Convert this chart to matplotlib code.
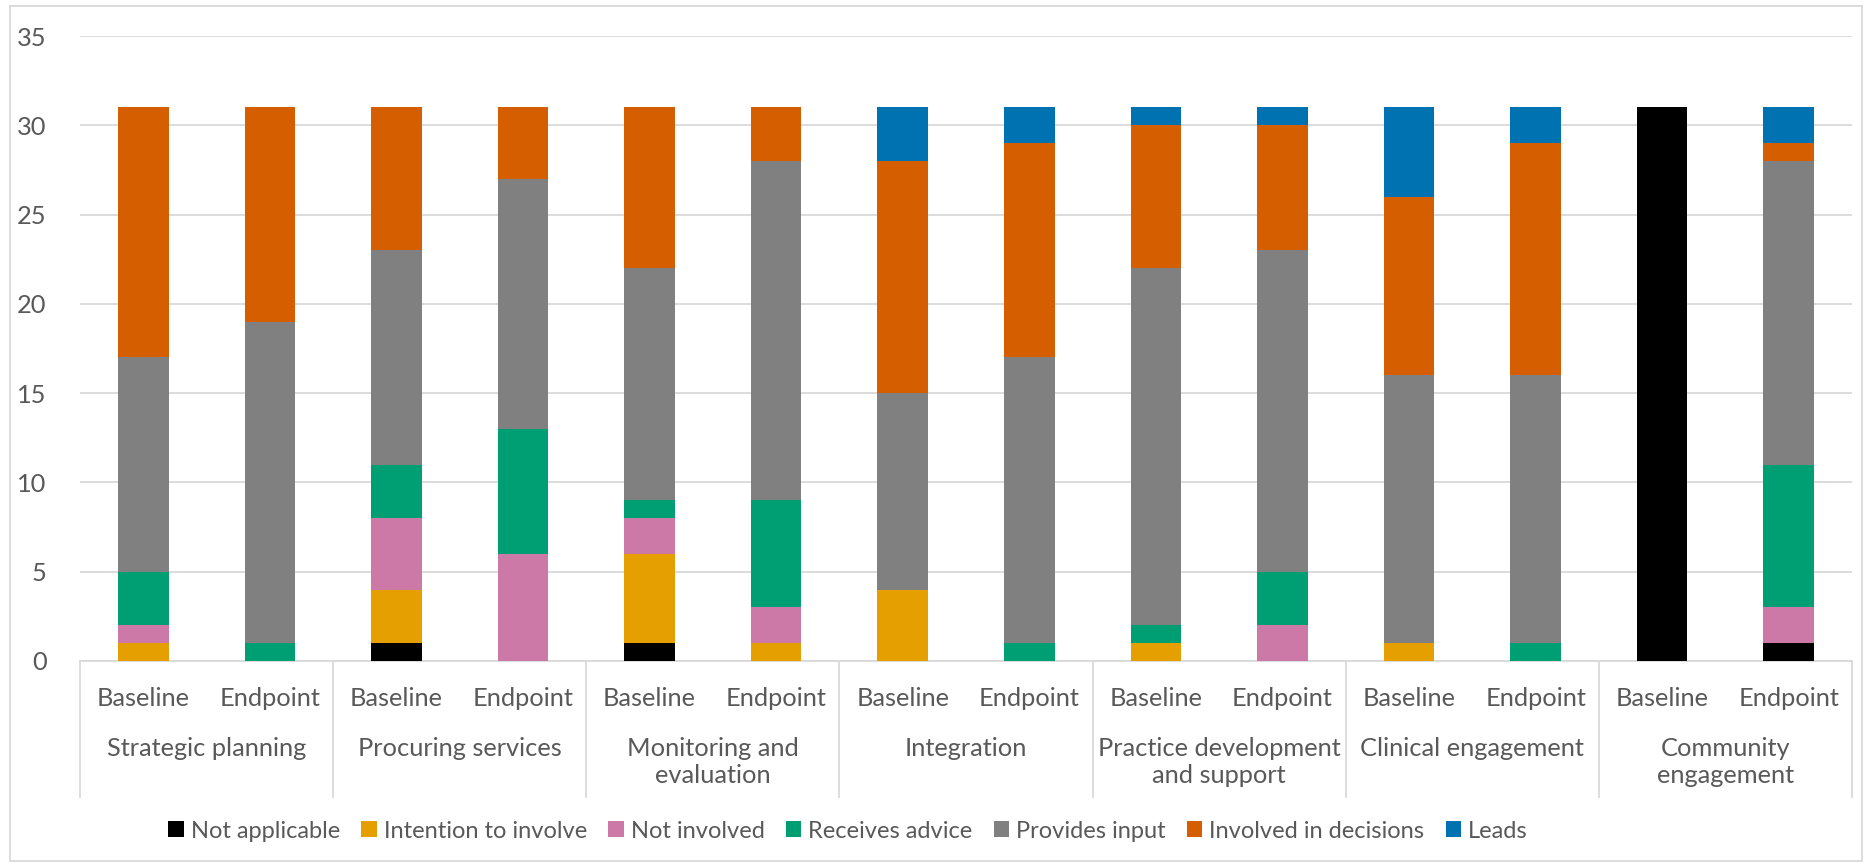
"""Stacked bars: level of involvement, baseline vs endpoint, per domain."""

import matplotlib
matplotlib.use("Agg")
import matplotlib.pyplot as plt
import matplotlib.transforms as mtransforms
from matplotlib.patches import Rectangle
import numpy as np

# Categories
groups = ["Strategic planning", "Procuring services", "Monitoring and\nevaluation",
          "Integration", "Practice development\nand support", "Clinical engagement",
          "Community\nengagement"]
timepoints = ["Baseline", "Endpoint"]

# Series values (one per bar: group x timepoint)
not_applicable = [0, 0, 1, 0, 1, 0, 0, 0, 0, 0, 0, 0, 31, 1]
intention_to_involve = [1, 0, 3, 0, 5, 1, 4, 0, 1, 0, 1, 0, 0, 0]
not_involved = [1, 0, 4, 6, 2, 2, 0, 0, 0, 2, 0, 0, 0, 2]
receives_advice = [3, 1, 3, 7, 1, 6, 0, 1, 1, 3, 0, 1, 0, 8]
provides_input = [12, 18, 12, 14, 13, 19, 11, 16, 20, 18, 15, 15, 0, 17]
involved_in_decisions = [14, 12, 8, 4, 9, 3, 13, 12, 8, 7, 10, 13, 0, 1]
leads = [0, 0, 0, 0, 0, 0, 3, 2, 1, 1, 5, 2, 0, 2]

series = [
    ("Not applicable", not_applicable, "#000000"),
    ("Intention to involve", intention_to_involve, "#E69F00"),
    ("Not involved", not_involved, "#CC79A7"),
    ("Receives advice", receives_advice, "#009E73"),
    ("Provides input", provides_input, "#808080"),
    ("Involved in decisions", involved_in_decisions, "#D55E00"),
    ("Leads", leads, "#0072B2"),
]

TEXT = "#595959"
GRID = "#d9d9d9"
LABEL_SIZE = 18.3

plt.rcParams["font.family"] = ["Lato", "DejaVu Sans"]
plt.rcParams["font.size"] = 17

fig = plt.figure(figsize=(18.7, 8.66), dpi=100)
ax = fig.add_axes([80 / 1870, 1 - 661 / 866, (1852 - 80) / 1870, (661 - 36) / 866])

n_bars = len(groups) * len(timepoints)
x = np.arange(n_bars) + 0.5
bottom = np.zeros(n_bars)
for label, vals, color in series:
    vals = np.array(vals, dtype=float)
    ax.bar(x, vals, width=0.4, bottom=bottom, color=color, label=label,
           edgecolor="none", zorder=3)
    bottom += vals

ax.set_xlim(0, n_bars)
ax.set_ylim(0, 35)
ax.set_yticks(range(0, 36, 5))
ax.yaxis.grid(True, color=GRID, linewidth=1.3, zorder=0)
ax.tick_params(axis="y", length=0, pad=24, colors=TEXT, labelsize=LABEL_SIZE)
ax.set_xticks([])
for side in ["top", "right", "left"]:
    ax.spines[side].set_visible(False)
ax.spines["bottom"].set_color(GRID)
ax.spines["bottom"].set_linewidth(1.3)

# Two-level category axis drawn below the plot
trans = mtransforms.blended_transform_factory(ax.transData, ax.transAxes)
sep_bottom = -(797 - 661) / (661 - 36)
for i, xi in enumerate(x):
    ax.text(xi, -(699 - 661) / (661 - 36), timepoints[i % 2], transform=trans,
            ha="center", va="center", color=TEXT, fontsize=LABEL_SIZE)
for g, name in enumerate(groups):
    ax.text(2 * g + 1, -(737 - 661) / (661 - 36), name, transform=trans,
            ha="center", va="top", color=TEXT, fontsize=LABEL_SIZE, linespacing=1.2)
for g in range(len(groups) + 1):
    ax.plot([2 * g, 2 * g], [0, sep_bottom], transform=trans, color=GRID,
            linewidth=1.3, clip_on=False)

handles, labels = ax.get_legend_handles_labels()
leg = fig.legend(handles, labels, loc="center", bbox_to_anchor=(0.4535, 1 - 831 / 866),
                 ncol=7, frameon=False, handlelength=0.65, handleheight=0.65,
                 handletextpad=0.3, columnspacing=0.9, fontsize=17)
for t in leg.get_texts():
    t.set_color(TEXT)

# Chart area border
fig.patches.append(Rectangle((10 / 1870, 5 / 866), 1852 / 1870, 855 / 866,
                             transform=fig.transFigure, fill=False,
                             edgecolor=GRID, linewidth=1.3))

fig.savefig("out.png", dpi=100)
